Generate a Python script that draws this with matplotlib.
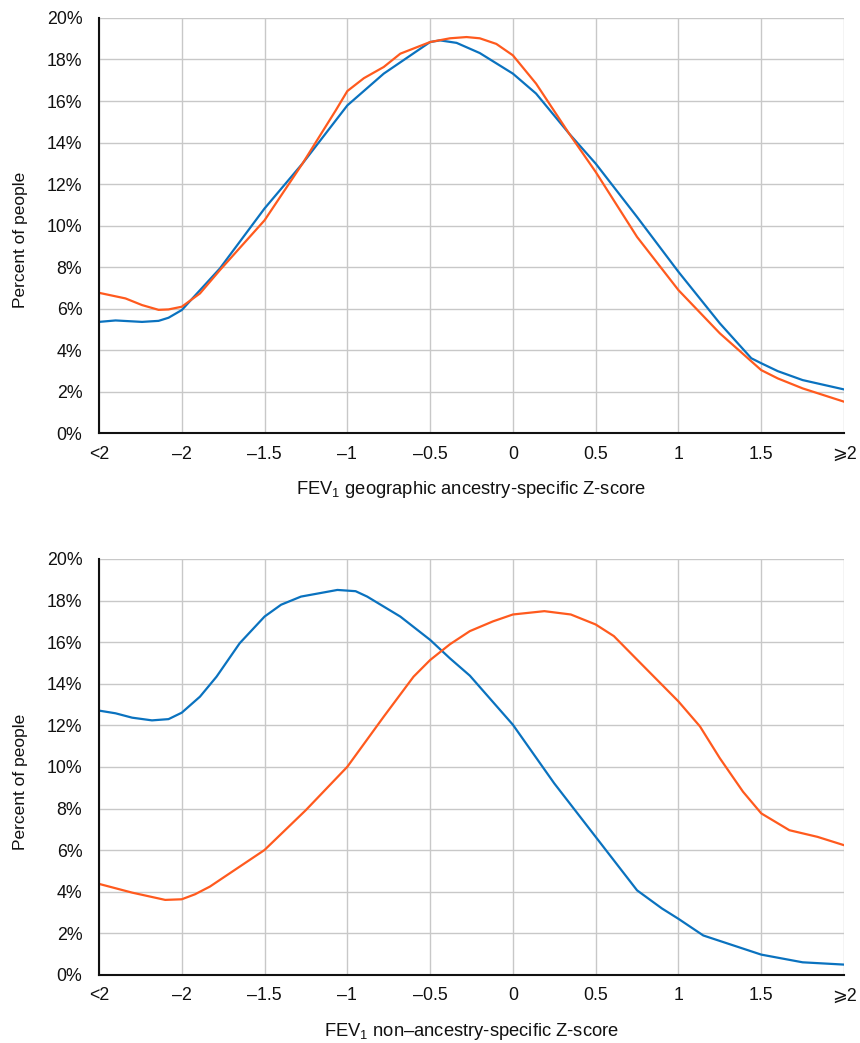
import matplotlib
matplotlib.use("Agg")
import matplotlib.pyplot as plt
from matplotlib.ticker import PercentFormatter

plt.rcParams['font.family'] = ['Liberation Sans', 'DejaVu Sans']
plt.rcParams['mathtext.fontset'] = 'custom'
plt.rcParams['mathtext.rm'] = 'Liberation Sans'

BLUE = '#0a72bf'
ORANGE = '#ff5a1e'

# x positions: -2.5 stands for "<2", 2 stands for ">=2"
tick_pos = [-2.5, -2, -1.5, -1, -0.5, 0, 0.5, 1, 1.5, 2]
tick_labels = ['<2', '–2', '–1.5', '–1', '–0.5', '0', '0.5', '1', '1.5', '⩾2']

# top panel: geographic ancestry-specific Z-score
top_blue_x = [-2.5, -2.4, -2.24, -2.14, -2.08, -2.0, -1.77, -1.5, -1.27, -1.0, -0.78,
              -0.5, -0.44, -0.34, -0.26, -0.2, 0.0, 0.14, 0.34, 0.5, 0.75, 1.0, 1.25, 1.44,
              1.5, 1.6, 1.75, 2.0]
top_blue_y = [5.37, 5.44, 5.37, 5.42, 5.57, 5.94, 7.94, 10.83, 13.0, 15.79, 17.32,
              18.84, 18.92, 18.8, 18.52, 18.31, 17.32, 16.36, 14.43, 12.99, 10.42, 7.78, 5.3,
              3.62, 3.38, 3.0, 2.57, 2.12]
top_orange_x = [-2.5, -2.34, -2.24, -2.14, -2.08, -2.0, -1.89, -1.77, -1.5, -1.27, -1.07,
                -1.0, -0.9, -0.78, -0.68, -0.5, -0.38, -0.28, -0.2, -0.1, 0.0, 0.14, 0.34,
                0.5, 0.75, 1.0, 1.25, 1.5, 1.6, 1.75, 2.0]
top_orange_y = [6.77, 6.5, 6.18, 5.95, 5.97, 6.1, 6.74, 7.86, 10.26, 13.0, 15.55,
                16.48, 17.1, 17.64, 18.28, 18.84, 19.02, 19.08, 19.02, 18.75, 18.2, 16.84, 14.43,
                12.59, 9.46, 6.9, 4.82, 3.05, 2.65, 2.17, 1.53]

# bottom panel: non-ancestry-specific Z-score
bot_blue_x = [-2.5, -2.4, -2.3, -2.18, -2.08, -2.0, -1.89, -1.79, -1.65, -1.5, -1.4,
              -1.28, -1.06, -0.95, -0.88, -0.68, -0.5, -0.38, -0.26, 0.0, 0.25, 0.5, 0.75,
              0.9, 1.0, 1.15, 1.5, 1.75, 2.0]
bot_blue_y = [12.71, 12.58, 12.37, 12.24, 12.3, 12.61, 13.38, 14.34, 15.95, 17.23, 17.8,
              18.19, 18.51, 18.45, 18.19, 17.23, 16.11, 15.22, 14.39, 12.03, 9.21, 6.64, 4.07,
              3.2, 2.7, 1.9, 0.98, 0.61, 0.5]
bot_orange_x = [-2.5, -2.3, -2.1, -2.0, -1.92, -1.83, -1.65, -1.5, -1.25, -1.0, -0.78,
                -0.6, -0.5, -0.38, -0.26, -0.12, 0.0, 0.19, 0.35, 0.5, 0.61, 0.75, 1.0, 1.13,
                1.25, 1.39, 1.5, 1.67, 1.84, 2.0]
bot_orange_y = [4.38, 3.96, 3.61, 3.64, 3.88, 4.25, 5.21, 6.01, 7.93, 10.01, 12.42,
                14.34, 15.14, 15.9, 16.53, 17.0, 17.33, 17.49, 17.33, 16.85, 16.29, 15.16, 13.15, 11.95,
                10.42, 8.81, 7.77, 6.96, 6.64, 6.24]

panels = [
    (top_blue_x, top_blue_y, top_orange_x, top_orange_y,
     'FEV$_\\mathregular{1}$ geographic ancestry-specific Z-score'),
    (bot_blue_x, bot_blue_y, bot_orange_x, bot_orange_y,
     'FEV$_\\mathregular{1}$ non–ancestry-specific Z-score'),
]

fig = plt.figure(figsize=(8.6, 10.43), dpi=100)
rects = [[0.1151, 0.5844, 0.8663, 0.3984], [0.1151, 0.0652, 0.8663, 0.3989]]

for rect, (bx, by, ox, oy, xlabel) in zip(rects, panels):
    ax = fig.add_axes(rect)
    ax.plot(bx, by, color=BLUE, lw=1.6, solid_joinstyle='round', zorder=3)
    ax.plot(ox, oy, color=ORANGE, lw=1.6, solid_joinstyle='round', zorder=3)
    ax.set_xlim(-2.5, 2)
    ax.set_ylim(0, 20)
    ax.set_xticks(tick_pos)
    ax.set_xticklabels(tick_labels)
    ax.set_yticks(range(0, 21, 2))
    ax.yaxis.set_major_formatter(PercentFormatter(decimals=0))
    ax.tick_params(length=0, labelsize=12.8, colors='#111111')
    ax.tick_params(axis='y', pad=12)
    ax.tick_params(axis='x', pad=9)
    ax.grid(True, color='#c8c8c8', lw=1)
    ax.set_axisbelow(True)
    for s in ['top', 'right']:
        ax.spines[s].set_visible(False)
    for s in ['left', 'bottom']:
        ax.spines[s].set_color('#111111')
        ax.spines[s].set_linewidth(1.5)
        ax.spines[s].set_zorder(4)
    ax.set_xlabel(xlabel, fontsize=13.2, va='center', color='#111111')
    ax.xaxis.set_label_coords(0.5, -0.135)
    ax.set_ylabel('Percent of people', fontsize=12.5, va='center', color='#111111')
    ax.yaxis.set_label_coords(-0.106, 0.465)

fig.savefig('out.png', dpi=100)
